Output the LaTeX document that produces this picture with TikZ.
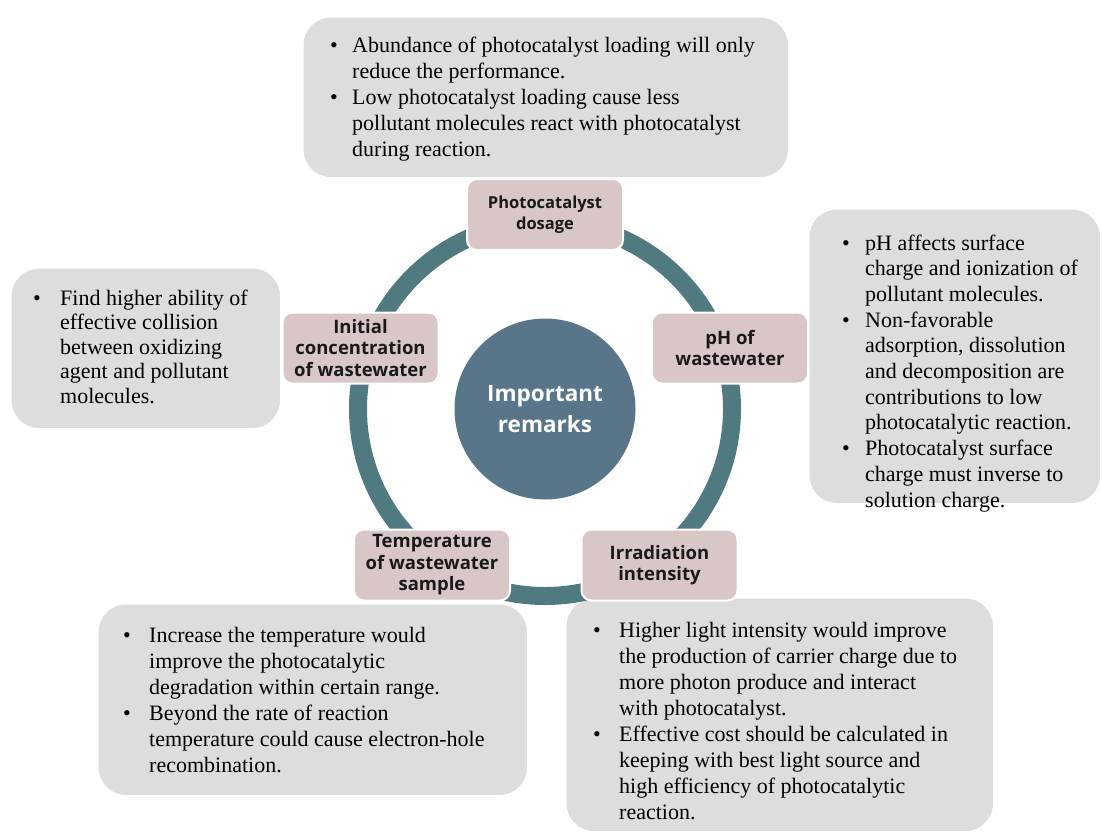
\documentclass[tikz,border=0pt]{standalone}
\usepackage{fontspec}
\setmainfont{Liberation Serif}
\newfontfamily\tagfont{Open Sans}

\definecolor{ringteal}{RGB}{78,122,128}
\definecolor{hubblue}{RGB}{88,117,138}
\definecolor{tagfill}{RGB}{216,199,198}
\definecolor{notefill}{RGB}{221,221,221}
\definecolor{tagtext}{RGB}{25,25,25}

% bullet paragraphs with a hanging indent; \\ only breaks the line
\newlength{\bhang}
\newcommand{\bitem}[1]{\par\hangindent=\bhang\hangafter=1\noindent\makebox[\bhang][l]{\textbullet}#1}
\newcommand{\notetext}[3]{\parbox[t]{520pt}{\setlength{\bhang}{#1}\fontsize{22}{#2}\selectfont
  \rightskip=0pt plus 1fil\parfillskip=0pt plus 1fil #3}}

\begin{document}
\begin{tikzpicture}[x=1pt,y=-1pt,
  note/.style={fill=notefill, draw=white, line width=1.5pt, rounded corners=28pt, anchor=north west, inner sep=0pt},
  tag/.style={fill=tagfill, draw=white, line width=2pt, rounded corners=10pt, minimum width=156pt, minimum height=71pt,
              inner sep=0pt, align=center, text=tagtext, font=\tagfont\bfseries\fontsize{18.5}{21.5}\selectfont},
  smalltag/.style={tag, font=\tagfont\bfseries\fontsize{16.5}{21}\selectfont},
  hub/.style={circle, fill=hubblue, minimum size=181pt, inner sep=0pt, align=center, text=white,
              font=\tagfont\bfseries\fontsize{22.5}{31}\selectfont},
  bullets/.style={anchor=base west, inner sep=0pt}]

\useasboundingbox (0,0) rectangle (1102,833);

% grey remark panels
\node[note, minimum width=486pt, minimum height=161pt] (topnote) at (302,16) {};
\node[note, minimum width=270pt, minimum height=161pt] (leftnote) at (10,267) {};
\node[note, minimum width=292pt, minimum height=295pt] (rightnote) at (808,208) {};
\node[note, minimum width=430pt, minimum height=192pt] (blnote) at (97,603) {};
\node[note, minimum width=428pt, minimum height=234pt] (brnote) at (565,597) {};

% central hub and the ring around it
\node[hub] (hub) at (545,409) {Important\\remarks};
\draw[ringteal, line width=18pt] (hub.center) circle[radius=187pt];

% factor tags sitting on the ring
\node[smalltag] (dosage) at (545,214.5) {Photocatalyst\\dosage};
\node[tag] (initial) at (360.5,348) {Initial\\concentration\\of wastewater};
\node[tag] (ph) at (730,348) {pH of\\wastewater};
\node[tag] (temp) at (432,565) {Temperature\\of wastewater\\sample};
\node[tag] (irr) at (659.5,565) {Irradiation\\intensity};

% remark texts
\node[bullets] (toptext) at (330,52) {\notetext{22pt}{26}{%
  \bitem{Abundance of photocatalyst loading will only\\reduce the performance.}
  \bitem{Low photocatalyst loading cause less\\pollutant molecules react with photocatalyst\\during reaction.}}};

\node[bullets] (lefttext) at (33,305) {\notetext{27pt}{24.5}{%
  \bitem{Find higher ability of\\effective collision\\between oxidizing\\agent and pollutant\\molecules.}}};

\node[bullets] (righttext) at (842,250) {\notetext{23pt}{25.7}{%
  \bitem{pH affects surface\\charge and ionization of\\pollutant molecules.}
  \bitem{Non-favorable\\adsorption, dissolution\\and decomposition are\\contributions to low\\photocatalytic reaction.}
  \bitem{Photocatalyst surface\\charge must inverse to\\solution charge.}}};

\node[bullets] (bltext) at (123,642) {\notetext{26pt}{26}{%
  \bitem{Increase the temperature would\\improve the photocatalytic\\degradation within certain range.}
  \bitem{Beyond the rate of reaction\\temperature could cause electron-hole\\recombination.}}};

\node[bullets] (brtext) at (593,637) {\notetext{26pt}{26}{%
  \bitem{Higher light intensity would improve\\the production of carrier charge due to\\more photon produce and interact\\with photocatalyst.}
  \bitem{Effective cost should be calculated in\\keeping with best light source and\\high efficiency of photocatalytic\\reaction.}}};

\end{tikzpicture}
\end{document}
